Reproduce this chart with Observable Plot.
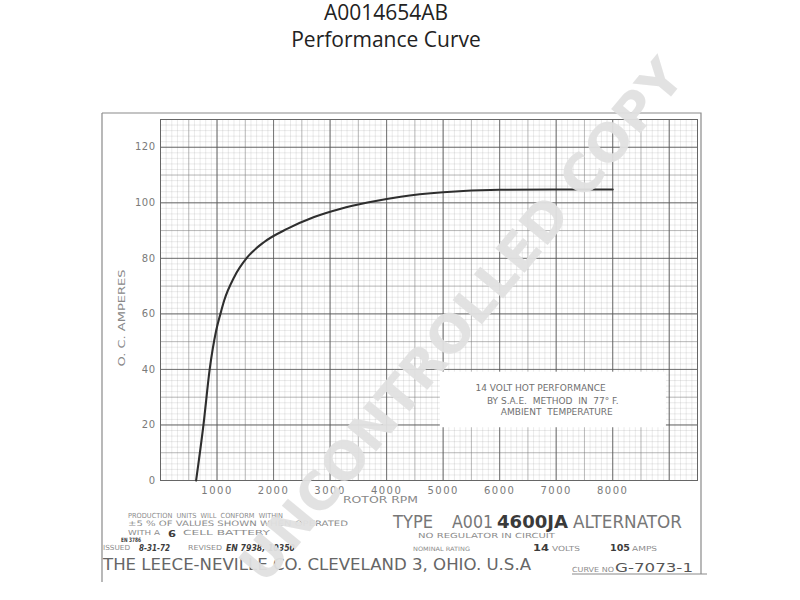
<!DOCTYPE html>
<html>
<head>
<meta charset="utf-8">
<script src="https://cdn.jsdelivr.net/npm/d3@7"></script>
<script src="https://cdn.jsdelivr.net/npm/@observablehq/plot@0.6"></script>
<style>
html, body { margin: 0; padding: 0; background: #fff; }
#wrap { position: relative; width: 800px; height: 600px; overflow: hidden; background: #fff; }
.title { position: absolute; left: 0; width: 772px; text-align: center;
  font-family: "Open Sans", sans-serif; font-size: 21px; line-height: 22px; color: #222; z-index: 2; }
#t1 { top: 1px; }
#t2 { top: 28px; }
#chart { position: absolute; left: 0; top: 0; }
svg text { white-space: pre; }
</style>
</head>
<body>
<div id="wrap">
  <div class="title" id="t1"></div>
  <div class="title" id="t2"></div>
  <div id="chart"></div>
</div>
<script>
// ---- data ----
const titleLines = ["A0014654AB", "Performance Curve"];
const rotorRpm = [630, 760, 870, 985, 1060, 1128, 1305, 1541, 1835, 2248, 2718, 3190, 3662, 4250, 5000, 6000, 7000, 8000];
const ocAmps   = [0,   20,  40,  54,  60,   64.9, 73.3, 80.5, 85.9, 90.7, 94.9, 97.9, 100.1, 102.2, 103.8, 104.7, 104.8, 104.8];
const xTickValues = [1000, 2000, 3000, 4000, 5000, 6000, 7000, 8000];
const yTickValues = [0, 20, 40, 60, 80, 100, 120];
const noteLines = ["14 VOLT HOT PERFORMANCE", "BY S.A.E.  METHOD  IN  77° F.", "AMBIENT  TEMPERATURE"];
const noteRpm = [6725, 6940, 7010];
const noteAmps = [33.4, 28.6, 24.6];
const noteBoxRpm = [4950, 8950];
const noteBoxAmps = [19, 39];

document.getElementById("t1").textContent = titleLines[0];
document.getElementById("t2").textContent = titleLines[1];

const curve = rotorRpm.map((r, i) => ({rpm: r, amps: ocAmps[i]}));
const notes = noteLines.map((t, i) => ({text: t, x: noteRpm[i], y: noteAmps[i]}));
const box = [{x1: noteBoxRpm[0], x2: noteBoxRpm[1], y1: noteBoxAmps[0], y2: noteBoxAmps[1]}];

// graph-paper rulings
const xFine = d3.range(0, 9501, 100), yFine = d3.range(0, 131, 2);
const xMid = d3.range(0, 9501, 500), yMid = d3.range(0, 131, 10);
const xMajor = d3.range(0, 9501, 1000), yMajor = d3.range(0, 131, 20);

const chart = Plot.plot({
  width: 800, height: 600,
  marginTop: 119, marginBottom: 120, marginLeft: 160, marginRight: 103,
  x: {domain: [0, 9500]},
  y: {domain: [0, 130]},
  style: {fontFamily: "DejaVu Sans", fontSize: "10px", color: "#7a7a7a", background: "transparent", overflow: "visible"},
  marks: [
    Plot.gridX(xFine, {stroke: "#999", strokeOpacity: 0.42, strokeWidth: 0.5}),
    Plot.gridY(yFine, {stroke: "#999", strokeOpacity: 0.42, strokeWidth: 0.5}),
    Plot.gridX(xMid, {stroke: "#777", strokeOpacity: 0.6, strokeWidth: 0.7}),
    Plot.gridY(yMid, {stroke: "#777", strokeOpacity: 0.6, strokeWidth: 0.7}),
    Plot.gridX(xMajor, {stroke: "#555", strokeOpacity: 0.75, strokeWidth: 0.9}),
    Plot.gridY(yMajor, {stroke: "#555", strokeOpacity: 0.75, strokeWidth: 0.9}),
    Plot.frame({stroke: "#666", strokeWidth: 1}),
    Plot.rect(box, {x1: "x1", x2: "x2", y1: "y1", y2: "y2", fill: "white"}),
    Plot.text(notes, {x: "x", y: "y", text: "text", fill: "#707070", fontSize: 9, ariaLabel: "note"}),
    Plot.line(curve, {x: "rpm", y: "amps", curve: "monotone-x", stroke: "#2e2e2e", strokeWidth: 2.1}),
    Plot.axisX(xTickValues, {tickSize: 0, tickPadding: 6, label: null, fontSize: 10, tickFormat: d => String(d)}),
    Plot.axisY(yTickValues, {tickSize: 0, tickPadding: 5, label: null, fontSize: 10, tickFormat: d => String(d)})
  ]
});
document.getElementById("chart").appendChild(chart);

const svg = d3.select(chart);
svg.selectAll('g[aria-label="x-axis tick label"] text').style("letter-spacing", "1.5px");
svg.selectAll('g[aria-label="y-axis tick label"] text').style("letter-spacing", "0.5px");
const noteLen = [185, 211, 167];
svg.selectAll('g[aria-label="note"] text')
  .attr("textLength", (d, i) => noteLen[i]).attr("lengthAdjust", "spacingAndGlyphs");

// drawing sheet border (scan furniture)
const deco = svg.append("g").attr("aria-label", "sheet");
deco.append("path").attr("d", "M102,113H701V574M102,113V582M572,574H707")
  .attr("fill", "none").attr("stroke", "#8a8a8a").attr("stroke-width", 1.2);

const light = "#8c8c8c", dark = "#3c3c3c";
function label(t, x, y, len, fs, fill, opts = {}) {
  const el = deco.append("text").text(t)
    .attr("x", x).attr("y", y)
    .attr("font-family", opts.family || "DejaVu Sans")
    .attr("font-size", fs).attr("fill", fill)
    .attr("font-weight", opts.weight || "normal")
    .attr("font-style", opts.italic ? "italic" : "normal")
    .attr("text-anchor", opts.anchor || "start")
    .attr("textLength", len).attr("lengthAdjust", "spacingAndGlyphs");
  if (opts.rotate) el.attr("transform", `rotate(${opts.rotate},${x},${y})`);
  return el;
}
// axis titles
label("O. C. AMPERES", 124.5, 318, 97, 9, "#888", {anchor: "middle", rotate: -90});
label("ROTOR RPM", 343, 503, 75, 8.5, "#888");
// footer block
label("PRODUCTION  UNITS  WILL  CONFORM  WITHIN", 128, 518, 155, 7, light);
label("±5 % OF VALUES SHOWN WHEN OPERATED", 128, 526, 220, 7.5, light);
label("WITH A", 128, 535, 32, 7, light);
label("6", 168, 537, 8, 9, dark, {weight: "bold"});
label("CELL BATTERY", 183, 535, 87, 7, light);
label("EN 3786", 121, 542, 20, 6, dark, {weight: "bold"});
label("ISSUED", 103, 550, 27, 7, light);
label("8-31-72", 139, 551, 31, 8, dark, {weight: "bold", italic: true});
label("REVISED", 188, 550, 34, 7, light);
label("EN 7938, 10350", 226, 551, 69, 8, dark, {weight: "bold", italic: true});
label("THE LEECE-NEVILLE CO. CLEVELAND 3, OHIO. U.S.A", 103, 570, 428, 16.5, "#666");
label("TYPE", 393, 528, 40, 18, "#777");
label("A001", 452, 528, 41, 18, "#777");
label("4600JA", 497, 528, 71, 18, "#3a3a3a", {weight: "600"});
label("ALTERNATOR", 573, 528, 109, 18, "#777");
label("NO REGULATOR IN CIRCUIT", 418, 538, 137, 7, light);
label("NOMINAL RATING", 413, 551, 57, 6, light);
label("14", 533, 551, 16, 8.5, dark, {weight: "bold"});
label("VOLTS", 552, 551, 28, 7, light);
label("105", 610, 551, 20, 8.5, dark, {weight: "bold"});
label("AMPS", 632, 551, 25, 7, light);
label("CURVE NO", 572, 572, 42, 7, light);
label("G-7073-1", 615, 572, 78, 13, "#555");

// watermark
svg.append("text").text("UNCONTROLLED COPY")
  .attr("transform", "translate(461,320) rotate(-50.3)")
  .attr("text-anchor", "middle").attr("dy", "0.36em")
  .attr("font-family", "DejaVu Sans").attr("font-weight", "bold").attr("font-size", 52)
  .attr("fill", "#e0e0e0").attr("fill-opacity", 0.95)
  .attr("textLength", 660).attr("lengthAdjust", "spacingAndGlyphs");
</script>
</body>
</html>
